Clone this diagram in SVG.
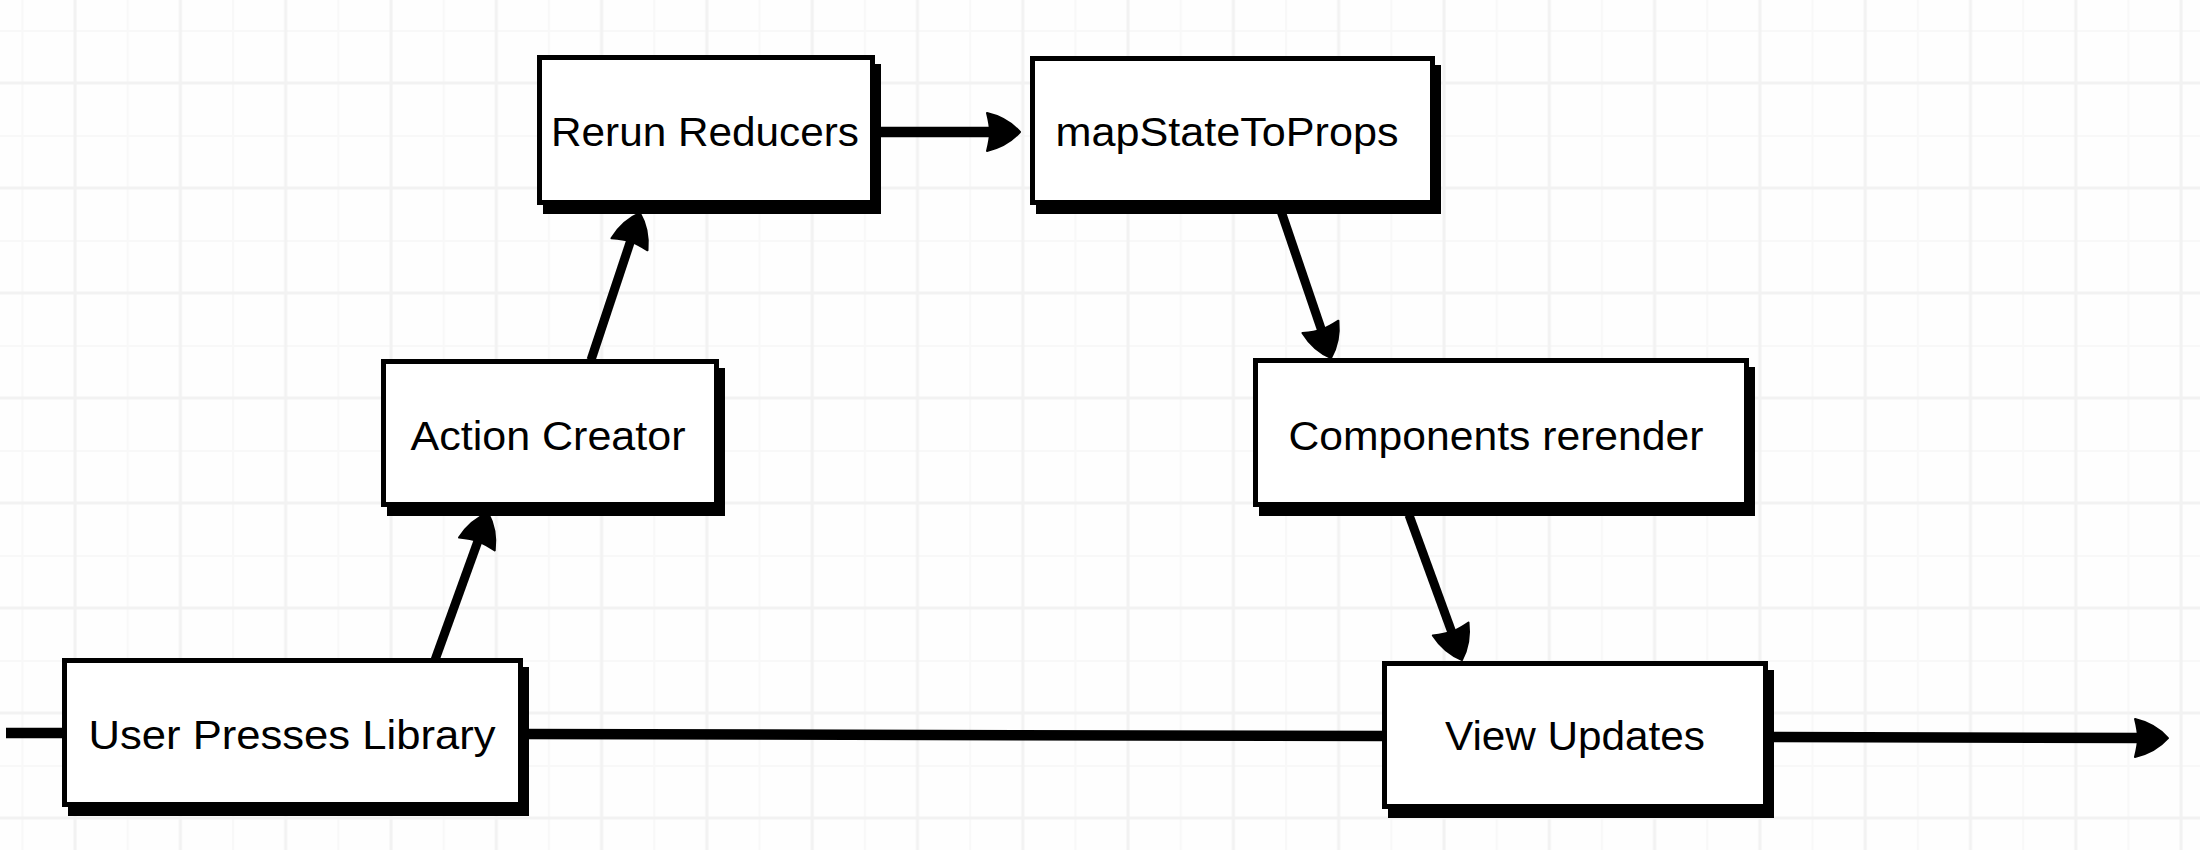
<svg xmlns="http://www.w3.org/2000/svg" xmlns:xlink="http://www.w3.org/1999/xlink" width="2200" height="850" viewBox="0 0 2200 850">
  <defs>
    <pattern id="grid" patternUnits="userSpaceOnUse" x="21.4" y="30" width="105.3" height="105">
      <rect x="0" y="0" width="105.3" height="105" fill="#fefefe"/>
      <rect x="0" y="0" width="2" height="105" fill="#f8f8f8"/>
      <rect x="0" y="0" width="105.3" height="2" fill="#f8f8f8"/>
      <rect x="52.2" y="0" width="3" height="105" fill="#f2f2f2"/>
      <rect x="0" y="51.5" width="105.3" height="3" fill="#f2f2f2"/>
    </pattern>
    <marker id="head" markerUnits="userSpaceOnUse" viewBox="-40 -30 50 60" refX="-25" refY="0" markerWidth="50" markerHeight="60" orient="auto" overflow="visible">
      <path d="M0,0 C-8,-9 -20,-16 -33,-19 C-31,-11 -30,-5 -30,0 C-30,5 -31,11 -33,19 C-20,16 -8,9 0,0 Z" fill="#000" stroke="#000" stroke-width="2" stroke-linejoin="round"/>
    </marker>
    <style>
      .box { fill: #ffffff; stroke: #000000; stroke-width: 5; stroke-linejoin: miter; }
      .shadow { fill: #000000; stroke: #000000; stroke-width: 5; }
      .label { font-family: "Liberation Sans", Arial, sans-serif; font-size: 41px; fill: #000000; text-anchor: middle; }
      .edge { fill: none; stroke: #000000; stroke-width: 10.5; stroke-linecap: butt; }
      .diag { stroke-width: 9; }
    </style>
  </defs>

  <rect x="0" y="0" width="2200" height="850" fill="url(#grid)"/>

  <g id="connectors">
    <line class="edge" x1="6" y1="733" x2="64" y2="733" stroke-linecap="round"/>
    <line class="edge" x1="521" y1="734" x2="1386" y2="736"/>
    <line class="edge" x1="1766" y1="737" x2="2143" y2="738" marker-end="url(#head)"/>
    <line class="edge diag" x1="435" y1="660" x2="479.6" y2="536.5" marker-end="url(#head)"/>
    <line class="edge diag" x1="591" y1="360" x2="632" y2="236.7" marker-end="url(#head)"/>
    <line class="edge" x1="873" y1="132" x2="995" y2="132" marker-end="url(#head)"/>
    <line class="edge diag" x1="1281" y1="211" x2="1323" y2="334.4" marker-end="url(#head)"/>
    <line class="edge diag" x1="1409" y1="515" x2="1453.4" y2="636.5" marker-end="url(#head)"/>
  </g>

  <g id="node-user-presses-library">
    <rect class="shadow" x="70.5" y="669.5" width="456" height="144"/>
    <rect class="box" x="64.5" y="660.5" width="456" height="144"/>
    <text class="label" x="292" y="749" textLength="407" lengthAdjust="spacingAndGlyphs">User Presses Library</text>
  </g>

  <g id="node-action-creator">
    <rect class="shadow" x="389.5" y="370.5" width="333" height="143"/>
    <rect class="box" x="383.5" y="361.5" width="333" height="143"/>
    <text class="label" x="548" y="450" textLength="275" lengthAdjust="spacingAndGlyphs">Action Creator</text>
  </g>

  <g id="node-rerun-reducers">
    <rect class="shadow" x="545.5" y="66.5" width="333" height="145"/>
    <rect class="box" x="539.5" y="57.5" width="333" height="145"/>
    <text class="label" x="705" y="146" textLength="308" lengthAdjust="spacingAndGlyphs">Rerun Reducers</text>
  </g>

  <g id="node-mapstatetoprops">
    <rect class="shadow" x="1038.5" y="67.5" width="400" height="144"/>
    <rect class="box" x="1032.5" y="58.5" width="400" height="144"/>
    <text class="label" x="1227" y="146" textLength="343" lengthAdjust="spacingAndGlyphs">mapStateToProps</text>
  </g>

  <g id="node-components-rerender">
    <rect class="shadow" x="1261.5" y="369.5" width="491" height="144"/>
    <rect class="box" x="1255.5" y="360.5" width="491" height="144"/>
    <text class="label" x="1496" y="450" textLength="415" lengthAdjust="spacingAndGlyphs">Components rerender</text>
  </g>

  <g id="node-view-updates">
    <rect class="shadow" x="1390.5" y="672.5" width="381" height="143"/>
    <rect class="box" x="1384.5" y="663.5" width="381" height="143"/>
    <text class="label" x="1575" y="750" textLength="260" lengthAdjust="spacingAndGlyphs">View Updates</text>
  </g>
</svg>
